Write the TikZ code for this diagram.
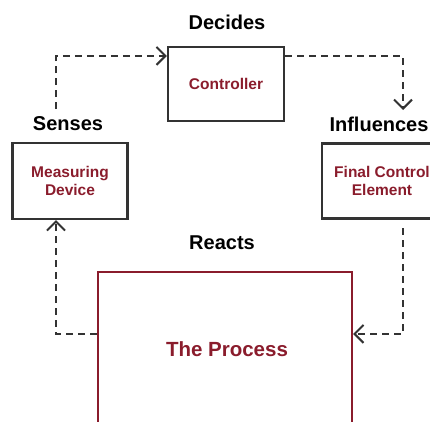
\documentclass[tikz,border=0pt]{standalone}
\usepackage{fontspec}
\setmainfont{Liberation Sans}
\usetikzlibrary{arrows.meta}
\definecolor{proc}{HTML}{8A1C2C}
\definecolor{edge}{HTML}{333333}
\begin{document}
\begin{tikzpicture}[x=1pt,y=-1pt,
  box/.style={draw=edge, line width=2.2pt, inner sep=0pt},
  boxtext/.style={text=proc, font=\bfseries\fontsize{15.5}{18}\selectfont, align=center, inner sep=0pt},
  lbl/.style={text=black, font=\bfseries\fontsize{20}{24}\selectfont, inner sep=0pt},
  conn/.style={draw=edge, line width=2.4pt, dash pattern=on 7pt off 5pt,
    -{Straight Barb[length=9pt,width=18pt,line width=2pt]}}]
\useasboundingbox (0,0) rectangle (430,421);
\clip (0,0) rectangle (430,421);
% boxes
\node[box, minimum width=116pt, minimum height=74pt] (ctrl) at (226,84) {};
\node[boxtext] (ctrlt) at (226,84) {Controller};
\node[box, minimum width=115pt, minimum height=76pt] (meas) at (70,181) {};
\node[boxtext] (meast) at (70,181) {Measuring\\Device};
\node[box, minimum width=120pt, minimum height=75pt] (fin) at (382,181) {};
\node[boxtext] (fint) at (382,181) {Final Control\\Element};
\node[box, draw=proc, minimum width=254pt, minimum height=260pt] (proc) at (225,402) {};
\node[boxtext, font=\bfseries\fontsize{20.5}{24}\selectfont] (proct) at (227,349) {The Process};
% labels
\node[lbl] (dec) at (227,22) {Decides};
\node[lbl] (sen) at (68,124) {Senses};
\node[lbl] (inf) at (379,124) {Influences};
\node[lbl] (rea) at (222,243) {Reacts};
% connector ends
\coordinate (s1) at (56,109);
\coordinate (i1) at (403,110);
\coordinate (f1) at (403,228);
% connectors
\draw[conn] (s1) |- ([yshift=-10pt]ctrl.north west);
\draw[conn] ([yshift=-10pt]ctrl.north east) -| (i1);
\draw[conn] (f1) |- ([yshift=-63pt]proc.north east);
\draw[conn] ([yshift=-63pt]proc.north west) -| ([xshift=-14pt]meas.south);
\end{tikzpicture}
\end{document}
